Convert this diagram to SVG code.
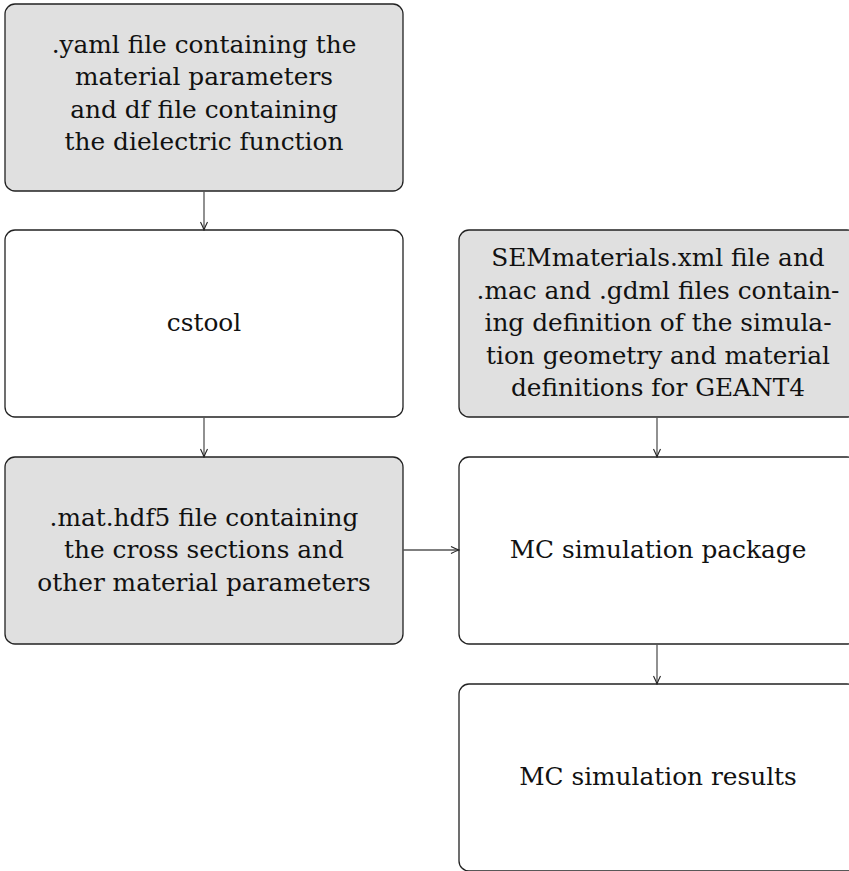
<svg xmlns="http://www.w3.org/2000/svg" width="849" height="871" viewBox="0 0 849 871">
<style>
.box{stroke:#222;stroke-width:1.3}
.g{fill:#e0e0e0}
.w{fill:#fff}
.t{font-size:24.8px;fill:#111;text-anchor:middle}
.c{stroke:#555;stroke-width:1.3;fill:none}
</style>
<defs>
<marker id="ah" viewBox="0 0 10 10" refX="9" refY="5" markerWidth="10" markerHeight="10" markerUnits="userSpaceOnUse" orient="auto">
<path d="M1,1.5 Q6,4 9,5 Q6,6 1,8.5" fill="none" stroke="#222" stroke-width="1.1"/>
</marker>
</defs>
<rect width="849" height="871" fill="#fff"/>
<g font-family="'DejaVu Serif', 'Liberation Serif', serif">
<g id="n1">
<rect class="box g" x="5" y="4" width="398" height="187" rx="10"/>
<text class="t" x="204" y="53">.yaml file containing the</text>
<text class="t" x="204" y="85">material parameters</text>
<text class="t" x="204" y="118">and df file containing</text>
<text class="t" x="204" y="150">the dielectric function</text>
</g>
<g id="n2">
<rect class="box w" x="5" y="230" width="398" height="187" rx="10"/>
<text class="t" x="204" y="331">cstool</text>
</g>
<g id="n3">
<rect class="box g" x="5" y="457" width="398" height="187" rx="10"/>
<text class="t" x="204" y="526">.mat.hdf5 file containing</text>
<text class="t" x="204" y="558">the cross sections and</text>
<text class="t" x="204" y="591">other material parameters</text>
</g>
<g id="n4">
<rect class="box g" x="459" y="230" width="398" height="187" rx="10"/>
<text class="t" x="658" y="266">SEMmaterials.xml file and</text>
<text class="t" x="658" y="299">.mac and .gdml files contain-</text>
<text class="t" x="658" y="331">ing definition of the simula-</text>
<text class="t" x="658" y="364">tion geometry and material</text>
<text class="t" x="658" y="396">definitions for GEANT4</text>
</g>
<g id="n5">
<rect class="box w" x="459" y="457" width="398" height="187" rx="10"/>
<text class="t" x="658" y="558">MC simulation package</text>
</g>
<g id="n6">
<rect class="box w" x="459" y="684" width="398" height="187" rx="10"/>
<text class="t" x="658" y="785">MC simulation results</text>
</g>
</g>
<g id="connectors">
<line class="c" x1="204" y1="191" x2="204" y2="230" marker-end="url(#ah)"/>
<line class="c" x1="204" y1="417" x2="204" y2="457" marker-end="url(#ah)"/>
<line class="c" x1="403" y1="550" x2="459" y2="550" marker-end="url(#ah)"/>
<line class="c" x1="657" y1="417" x2="657" y2="457" marker-end="url(#ah)"/>
<line class="c" x1="657" y1="644" x2="657" y2="684" marker-end="url(#ah)"/>
</g>
</svg>
